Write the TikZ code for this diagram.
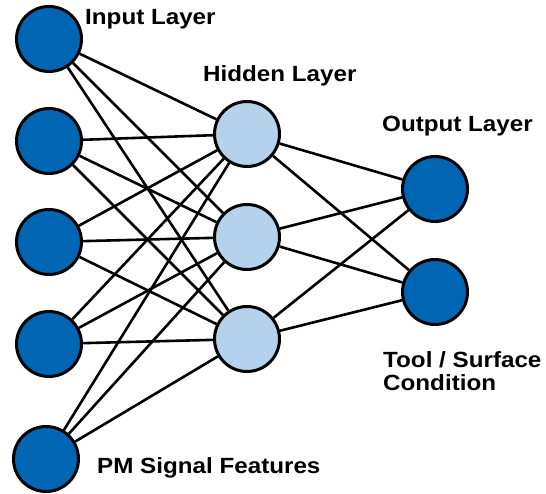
\documentclass[tikz,border=0pt]{standalone}
\usepackage{fontspec}
\newfontfamily\labfont[FakeStretch=1.1]{Liberation Sans Bold}
\definecolor{darkblue}{RGB}{0,102,179}
\definecolor{lightblue}{RGB}{180,210,235}
\begin{document}
\begin{tikzpicture}[x=1pt,y=-1pt,
  neuron/.style={circle,draw=black,line width=3pt,minimum size=65pt,inner sep=0pt},
  inneuron/.style={neuron,fill=darkblue},
  hidneuron/.style={neuron,fill=lightblue},
  link/.style={draw=black,line width=2.6pt},
  lab/.style={anchor=base west,inner sep=0pt,font=\labfont\fontsize{22}{26}\selectfont}]
\useasboundingbox (0,0) rectangle (546,494);
% input layer
\node[inneuron] (i1) at (49,39) {};
\node[inneuron] (i2) at (49,141) {};
\node[inneuron] (i3) at (49,242) {};
\node[inneuron] (i4) at (49,344) {};
\node[inneuron] (i5) at (46,459) {};
% hidden layer
\node[hidneuron] (h1) at (247,134) {};
\node[hidneuron] (h2) at (247,237) {};
\node[hidneuron] (h3) at (247,339) {};
% output layer
\node[inneuron] (o1) at (435,189) {};
\node[inneuron] (o2) at (435,292) {};
% connections
\begin{scope}[on background layer/.style={}]
\foreach \i in {1,...,5}{
  \foreach \h in {1,2,3}{
    \draw[link] (i\i) -- (h\h);
  }
}
\foreach \h in {1,2,3}{
  \foreach \o in {1,2}{
    \draw[link] (h\h) -- (o\o);
  }
}
\end{scope}
% labels
\node[lab] (tin) at (85,25) {Input Layer};
\node[lab] (thid) at (203,82) {Hidden Layer};
\node[lab] (tout) at (382,132) {Output Layer};
\node[lab] (ttool) at (383,367) {Tool / Surface};
\node[lab] (tcond) at (383,390) {Condition};
\node[lab] (tpm) at (97,473) {PM Signal Features};
\end{tikzpicture}
\end{document}
